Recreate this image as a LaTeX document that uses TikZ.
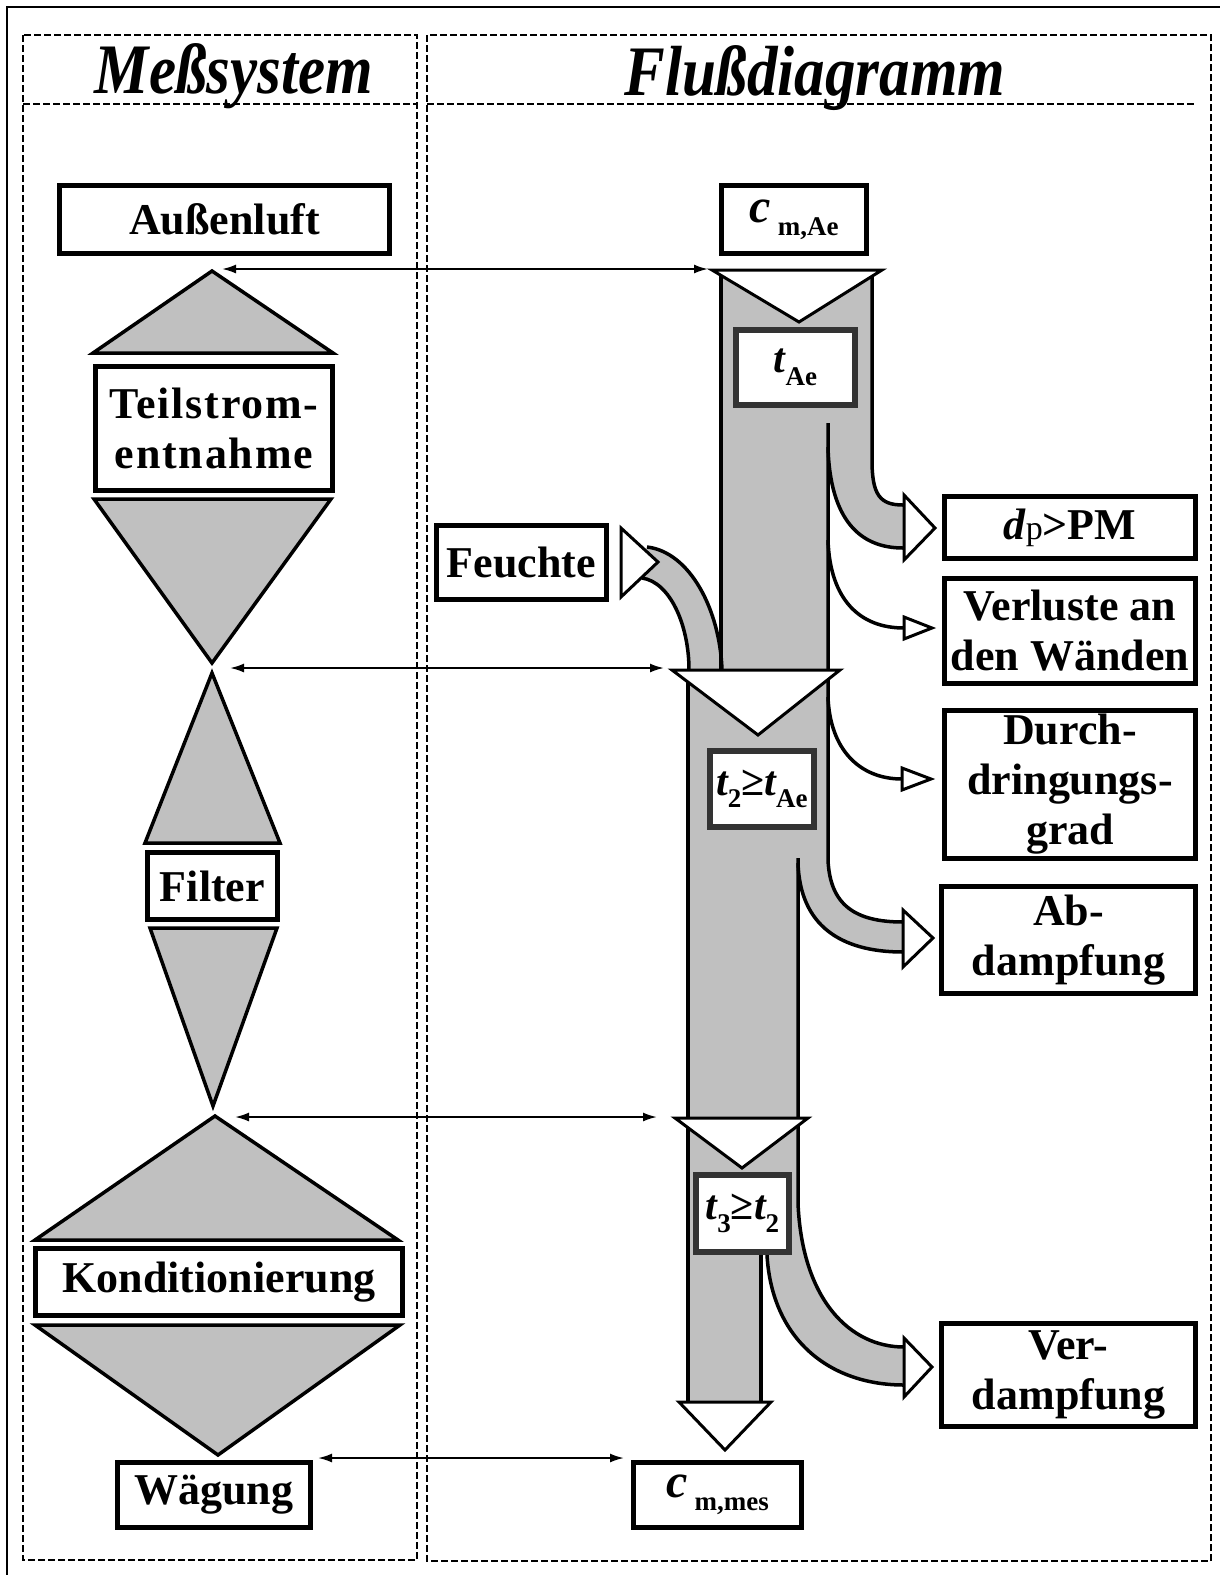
\documentclass[tikz,border=0pt]{standalone}
\usepackage{fontspec}
\setmainfont{Liberation Serif}
\usetikzlibrary{arrows.meta}
\definecolor{flowgray}{HTML}{C0C0C0}
\newcommand\boxfont{\fontsize{44}{50}\selectfont\bfseries}
\newcommand\mathboxfont{\fontsize{42}{46}\selectfont\bfseries}
\newcommand\headfont{\fontsize{71}{72}\selectfont\bfseries\itshape}
\newcommand\lowsub[1]{\raisebox{-0.3em}{\fontsize{27}{27}\selectfont #1}}
\newcommand\headtext[1]{\scalebox{0.86}[1]{#1}}
\tikzset{
  box/.style={draw, line width=5pt, fill=white, inner sep=0pt, align=center, font=\boxfont},
  tbox/.style={box, draw=black!80, line width=6pt, font=\mathboxfont},
  funnel/.style={draw, fill=flowgray, line width=3.5pt, line join=miter},
  chan/.style={line width=3.5pt},
  wedge/.style={draw, fill=white, line width=3pt, line join=miter},
  link/.style={line width=2pt, {Latex[length=14pt,width=9pt]}-{Latex[length=14pt,width=9pt]}},
  panel/.style={line width=1.8pt, dash pattern=on 7pt off 3pt},
}
\begin{document}
\begin{tikzpicture}[x=1pt, y=-1pt]
  \useasboundingbox (0,0) rectangle (1220,1575);
  % Rahmen und Spalten
  \draw[line width=2.5pt] (7,1590) -- (7,7) -- (1240,7);
  \draw[panel] (23,35) rectangle (417,1560);
  \draw[panel] (427,35) rectangle (1211,1561);
  \draw[panel, line width=2.6pt] (23,104) -- (417,104);
  \draw[panel] (427,104) -- (1195,104);
  \node[font=\headfont, anchor=base] (hmess) at (234,93) {\headtext{Meßsystem}};
  \node[font=\headfont, anchor=base] (hfluss) at (815,95) {\headtext{Flußdiagramm}};

  % Messsystem
  \node[box, minimum width=330pt, minimum height=68pt] (aussen) at (224.5,219.5) {Außenluft};
  \draw[funnel] (212,271) -- (333,353) -- (93,353) -- cycle;
  \node[box, minimum width=237pt, minimum height=124pt] (teil) at (214,428.5)
    {\addfontfeature{LetterSpace=4}Teilstrom-\\\addfontfeature{LetterSpace=4}entnahme};
  \draw[funnel] (94,499) -- (331,499) -- (212,663) -- cycle;
  \draw[funnel] (212,673) -- (280,843) -- (145,843) -- cycle;
  \node[box, minimum width=130pt, minimum height=67pt] (filter) at (212.5,886) {Filter};
  \draw[funnel] (150,928) -- (277,928) -- (213,1106) -- cycle;
  \draw[funnel] (215,1116) -- (398,1240) -- (35,1240) -- cycle;
  \node[box, minimum width=367pt, minimum height=67pt] (kond) at (219,1282) {Konditionierung};
  \draw[funnel] (35,1325) -- (400,1325) -- (218,1455) -- cycle;
  \node[box, minimum width=193pt, minimum height=65pt] (waeg) at (214,1495) {Wägung};

  % Flussdiagramm: Kanal
  \fill[flowgray] (721,270) -- (872,270) -- (872,460) .. controls (872,495) and (880,505) .. (903,505)
    -- (903,548) .. controls (860,548) and (830,520) .. (828,447) -- (828,670) -- (721,670) -- cycle;
  \fill[flowgray] (647,547) .. controls (690,552) and (720,610) .. (722,670)
    -- (689,670) .. controls (689,625) and (670,582) .. (642,578) -- cycle;
  \fill[flowgray] (688,670) -- (828,670) -- (828,860) .. controls (830,905) and (855,922) .. (903,922)
    -- (903,952) .. controls (840,952) and (800,925) .. (798,863) -- (798,1118) -- (688,1118) -- cycle;
  \fill[flowgray] (688,1118) -- (798,1118) -- (798,1203) .. controls (802,1300) and (850,1347) .. (904,1347)
    -- (904,1385) .. controls (830,1385) and (772,1340) .. (767,1255) -- (761,1255) -- (761,1402)
    -- (688,1402) -- cycle;
  \draw[chan] (721,270) -- (721,670);
  \draw[chan] (872,270) -- (872,460) .. controls (872,495) and (880,505) .. (903,505);
  \draw[chan] (828,423) -- (828,860) .. controls (830,905) and (855,922) .. (903,922);
  \draw[chan] (828,447) .. controls (830,520) and (860,548) .. (903,548);
  \draw[chan] (828,540) .. controls (830,600) and (860,628) .. (904,628);
  \draw[chan] (828,697) .. controls (830,750) and (860,779) .. (902,779);
  \draw[chan] (647,547) .. controls (690,552) and (720,610) .. (722,670);
  \draw[chan] (642,578) .. controls (670,582) and (689,625) .. (689,670);
  \draw[chan] (688,670) -- (688,1402);
  \draw[chan] (798,858) -- (798,1203) .. controls (802,1300) and (850,1347) .. (904,1347);
  \draw[chan] (798,863) .. controls (800,925) and (840,952) .. (903,952);
  \draw[chan] (761,1255) -- (761,1402);
  \draw[chan] (767,1255) .. controls (772,1340) and (830,1385) .. (904,1385);

  % Spitzen
  \draw[wedge] (712,270) -- (882,270) -- (799,322) -- cycle;
  \draw[wedge] (672,670) -- (840,670) -- (758,735) -- cycle;
  \draw[wedge] (675,1118) -- (808,1118) -- (742,1168) -- cycle;
  \draw[wedge] (679,1402) -- (771,1402) -- (725,1450) -- cycle;
  \draw[wedge] (621,528) -- (658,562) -- (621,597) -- cycle;
  \draw[wedge] (904,495) -- (935,528) -- (904,560) -- cycle;
  \draw[wedge] (904,617) -- (932,628) -- (904,639) -- cycle;
  \draw[wedge] (902,768) -- (931,779) -- (902,790) -- cycle;
  \draw[wedge] (903,910) -- (933,938) -- (903,967) -- cycle;
  \draw[wedge] (904,1338) -- (932,1367) -- (904,1397) -- cycle;

  % Flussdiagramm: Kaesten
  \node[box, font=\mathboxfont, minimum width=145pt, minimum height=68pt] (cae) at (794,219.5)
    {{\itshape\fontsize{48}{48}\selectfont c}\,\lowsub{m,Ae}};
  \node[tbox, minimum width=119pt, minimum height=75pt] (tae) at (795.5,367.5)
    {{\itshape t}\lowsub{Ae}};
  \node[tbox, minimum width=104pt, minimum height=76pt] (tzwei) at (762,789)
    {{\itshape t}\lowsub{2}≥{\itshape t}\lowsub{Ae}};
  \node[tbox, minimum width=93pt, minimum height=77pt] (tdrei) at (742.5,1213.5)
    {{\itshape t}\lowsub{3}≥{\itshape t}\lowsub{2}};
  \node[box, font=\mathboxfont, minimum width=168pt, minimum height=65pt] (cmes) at (717.5,1495)
    {{\itshape\fontsize{48}{48}\selectfont c}\,\lowsub{m,mes}};
  \node[box, minimum width=170pt, minimum height=74pt] (feucht) at (521.5,562.5) {Feuchte};
  \node[box, minimum width=251pt, minimum height=62pt] (dpm) at (1070,527.5)
    {{\itshape d}{\mdseries\fontsize{34}{34}\selectfont p}>PM};
  \node[box, minimum width=251pt, minimum height=105pt] (verl) at (1070,631) {Verluste an\\den Wänden};
  \node[box, minimum width=251pt, minimum height=148pt] (durch) at (1070,784.5) {Durch-\\dringungs-\\grad};
  \node[box, minimum width=254pt, minimum height=107pt] (abd) at (1068.5,940) {Ab-\\dampfung};
  \node[box, minimum width=254pt, minimum height=103pt] (verd) at (1068.5,1375) {Ver-\\dampfung};

  % Zuordnung
  \coordinate (mA) at (222,269);
  \coordinate (fA) at (708,269);
  \coordinate (mB) at (230,668);
  \coordinate (fB) at (664,668);
  \coordinate (mC) at (235,1117);
  \coordinate (fC) at (657,1117);
  \coordinate (mD) at (318,1458);
  \coordinate (fD) at (624,1458);
  \draw[link] (mA) -- (fA);
  \draw[link] (mB) -- (fB);
  \draw[link] (mC) -- (fC);
  \draw[link] (mD) -- (fD);
\end{tikzpicture}
\end{document}
